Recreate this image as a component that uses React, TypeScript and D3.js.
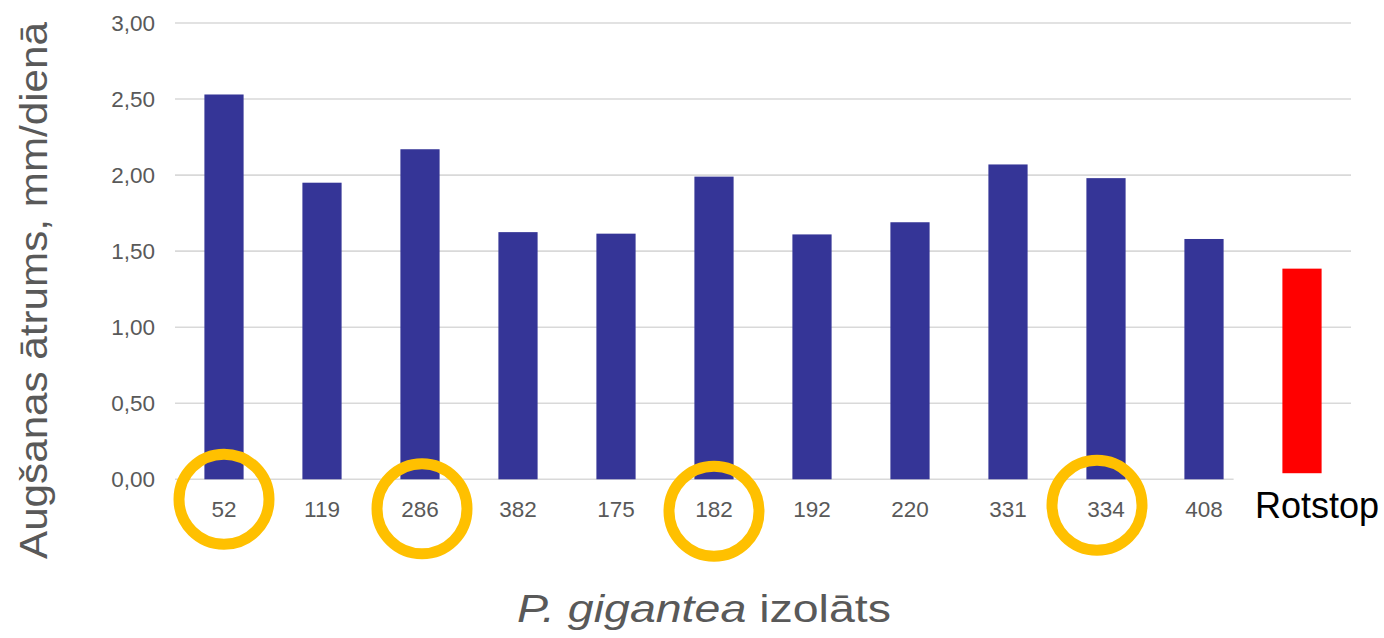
import React from "react";
import * as d3 from "d3";

const isolates = ["52", "119", "286", "382", "175", "182", "192", "220", "331", "334", "408"];
const growthRates = [2.53, 1.95, 2.17, 1.625, 1.615, 1.99, 1.61, 1.69, 2.07, 1.98, 1.58];
const controlLabel = "Rotstop";
const controlValue = 1.385;
const controlBase = 0.04;
const yTicks = [0, 0.5, 1, 1.5, 2, 2.5, 3];
const highlighted = ["52", "286", "182", "334"];
const ringDx = [0, 2, 0, -9];
const ringDy = [20, 29.5, 32, 26];

const W = 1384;
const H = 638;

export default function App() {
  const allCats = [...isolates, controlLabel];
  const x = d3.scaleBand<string>().domain(allCats).range([175, 1351]).paddingInner(0.6).paddingOuter(0.3);
  const y = d3.scaleLinear().domain([0, 3]).range([479.3, 23]);
  const fmt = (v: number) => v.toFixed(2).replace(".", ",");
  const bw = x.bandwidth();
  const lastX = (x(isolates[isolates.length - 1]) as number) + bw + 10;

  return (
    <svg width={W} height={H} style={{ position: "absolute", left: 0, top: 0, background: "#fff" }}
      fontFamily="Liberation Sans, Arial, sans-serif">
      {yTicks.map((t) => (
        <g key={t}>
          <line x1={175} x2={t === 0 ? lastX : 1351} y1={y(t)} y2={y(t)} stroke="#d9d9d9" strokeWidth={1.6} />
          <text x={155} y={y(t) + 8} textAnchor="end" fontSize={22.5} fill="#595959">{fmt(t)}</text>
        </g>
      ))}
      {isolates.map((c, i) => (
        <rect key={c} x={x(c)} y={y(growthRates[i])} width={bw} height={y(0) - y(growthRates[i])} fill="#353597" />
      ))}
      <rect x={x(controlLabel)} y={y(controlValue)} width={bw} height={y(controlBase) - y(controlValue)} fill="#ff0000" />
      {isolates.map((c) => (
        <text key={c} x={(x(c) as number) + bw / 2} y={516.5} textAnchor="middle" fontSize={22.5} fill="#595959">{c}</text>
      ))}
      <text x={(x(controlLabel) as number) + bw / 2 + 15} y={518.3} textAnchor="middle" fontSize={36} fill="#000">{controlLabel}</text>
      {highlighted.map((c, i) => (
        <circle key={c} cx={(x(c) as number) + bw / 2 + ringDx[i]} cy={y(0) + ringDy[i]} r={45} fill="none" stroke="#ffc000" strokeWidth={11} />
      ))}
      <text transform="translate(47,559) rotate(-90)" fontSize={38} fill="#595959" textLength={537} lengthAdjust="spacingAndGlyphs">Augšanas ātrums, mm/dienā</text>
      <text x={517} y={622} fontSize={38} fill="#595959" textLength={374} lengthAdjust="spacingAndGlyphs">
        <tspan fontStyle="italic">P. gigantea</tspan> izolāts
      </text>
    </svg>
  );
}
